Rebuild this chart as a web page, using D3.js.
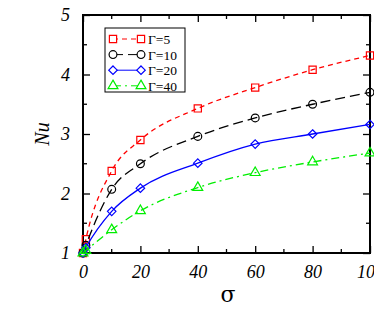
<!DOCTYPE html>
<html>
<head>
<meta charset="utf-8">
<script src="https://cdn.jsdelivr.net/npm/d3@7"></script>
<style>
  body { margin: 0; background: #fff; }
  svg { display: block; }
  .tick text { font-family: "Liberation Serif", serif; font-style: italic; }
</style>
</head>
<body>
<div id="chart"></div>
<script>
const sigma = [0, 1, 10, 20, 40, 60, 80, 100];
const nuG5 = [1.0, 1.23, 2.38, 2.9, 3.43, 3.78, 4.08, 4.32];
const nuG10 = [1.0, 1.13, 2.07, 2.5, 2.96, 3.27, 3.5, 3.7];
const nuG20 = [1.0, 1.09, 1.7, 2.09, 2.51, 2.83, 3.0, 3.16];
const nuG40 = [1.0, 1.04, 1.39, 1.71, 2.1, 2.35, 2.53, 2.68];
const seriesNames = ["\u0393=5", "\u0393=10", "\u0393=20", "\u0393=40"];
const xTicks = [0, 20, 40, 60, 80, 100];
const yTicks = [1, 2, 3, 4, 5];

const width = 374;
const height = 314;
const margin = { top: 15, right: 4, bottom: 61, left: 83 };

const svg = d3
  .select("#chart")
  .append("svg")
  .attr("width", width)
  .attr("height", height);

const x = d3
  .scaleLinear()
  .domain([0, 100])
  .range([margin.left, width - margin.right]);

const y = d3
  .scaleLinear()
  .domain([1, 5])
  .range([height - margin.bottom, margin.top]);

const series = [
  { name: seriesNames[0], values: nuG5, color: "#ff0000", dash: "5,4", marker: "square" },
  { name: seriesNames[1], values: nuG10, color: "#000000", dash: "10,5", marker: "circle" },
  { name: seriesNames[2], values: nuG20, color: "#0000ff", dash: null, marker: "diamond" },
  { name: seriesNames[3], values: nuG40, color: "#00ee00", dash: "8,4,2,4", marker: "triangle" },
];

const diamond = {
  draw(ctx, size) {
    const r = Math.sqrt(size / 2);
    ctx.moveTo(0, -r);
    ctx.lineTo(r, 0);
    ctx.lineTo(0, r);
    ctx.lineTo(-r, 0);
    ctx.closePath();
  },
};

const symbols = {
  square: d3.symbol().type(d3.symbolSquare).size(52),
  circle: d3.symbol().type(d3.symbolCircle).size(48),
  diamond: d3.symbol().type(diamond).size(36),
  triangle: d3.symbol().type(d3.symbolTriangle).size(42),
};

// axes, ticks inward on all four sides
const plotW = width - margin.left - margin.right;
const plotH = height - margin.top - margin.bottom;

const xBottom = d3.axisBottom(x).tickValues(xTicks).tickSize(-7).tickPadding(12);
const xTop = d3.axisTop(x).tickValues(xTicks).tickSize(-7).tickFormat("");
const yLeft = d3.axisLeft(y).tickValues(yTicks).tickSize(-7).tickPadding(13).tickFormat(d3.format("d"));
const yRight = d3.axisRight(y).tickValues(yTicks).tickSize(-7).tickFormat("");

const xMinor = d3.range(10, 100, 20);
const yMinor = d3.range(1.5, 5, 1);

function styleAxis(g) {
  g.select(".domain").remove();
  g.selectAll(".tick line").attr("stroke", "#000").attr("stroke-width", 1.3);
  g.selectAll(".tick text").attr("font-size", 18).attr("fill", "#000");
}

svg.append("g")
  .attr("transform", `translate(0,${height - margin.bottom})`)
  .call(xBottom)
  .call(styleAxis);
svg.append("g")
  .attr("transform", `translate(0,${margin.top})`)
  .call(xTop)
  .call(styleAxis);
svg.append("g")
  .attr("transform", `translate(${margin.left},0)`)
  .call(yLeft)
  .call(styleAxis);
svg.append("g")
  .attr("transform", `translate(${width - margin.right},0)`)
  .call(yRight)
  .call(styleAxis);

const minor = svg.append("g").attr("stroke", "#000").attr("stroke-width", 1.3);
xMinor.forEach((v) => {
  minor.append("line").attr("x1", x(v)).attr("x2", x(v))
    .attr("y1", y(1)).attr("y2", y(1) - 4);
  minor.append("line").attr("x1", x(v)).attr("x2", x(v))
    .attr("y1", y(5)).attr("y2", y(5) + 4);
});
yMinor.forEach((v) => {
  minor.append("line").attr("x1", x(0)).attr("x2", x(0) + 4)
    .attr("y1", y(v)).attr("y2", y(v));
  minor.append("line").attr("x1", x(100)).attr("x2", x(100) - 4)
    .attr("y1", y(v)).attr("y2", y(v));
});

svg.append("rect")
  .attr("x", margin.left)
  .attr("y", margin.top)
  .attr("width", plotW)
  .attr("height", plotH)
  .attr("fill", "none")
  .attr("stroke", "#000")
  .attr("stroke-width", 2);

// lines
const line = d3
  .line()
  .curve(d3.curveMonotoneX)
  .x((d, i) => x(sigma[i]))
  .y((d) => y(d));

series.forEach((s) => {
  svg.append("path")
    .datum(s.values)
    .attr("fill", "none")
    .attr("stroke", s.color)
    .attr("stroke-width", 1.3)
    .attr("stroke-dasharray", s.dash)
    .attr("d", line);

  svg.append("g")
    .selectAll("path")
    .data(s.values)
    .join("path")
    .attr("transform", (d, i) => `translate(${x(sigma[i])},${y(d)})`)
    .attr("d", symbols[s.marker])
    .attr("fill", "none")
    .attr("stroke", s.color)
    .attr("stroke-width", 1.2);
});

// legend
const legend = svg.append("g").attr("transform", "translate(105,28)");
legend.append("rect")
  .attr("width", 80)
  .attr("height", 64)
  .attr("fill", "#fff")
  .attr("stroke", "#000")
  .attr("stroke-width", 1);

series.forEach((s, i) => {
  const ly = 11 + i * 15.6;
  legend.append("line")
    .attr("x1", 8).attr("x2", 36)
    .attr("y1", ly).attr("y2", ly)
    .attr("stroke", s.color)
    .attr("stroke-width", 1)
    .attr("stroke-dasharray", s.dash);
  [8, 36].forEach((lx) => {
    legend.append("path")
      .attr("transform", `translate(${lx},${ly})`)
      .attr("d", symbols[s.marker])
      .attr("fill", "#fff")
      .attr("stroke", s.color)
      .attr("stroke-width", 1.2);
  });
  legend.append("text")
    .attr("x", 43)
    .attr("y", ly + 5)
    .attr("font-family", "Liberation Serif, serif")
    .attr("font-size", 13.5)
    .text(s.name);
});

// axis titles
svg.append("text")
  .attr("transform", `translate(49,${y(3)}) rotate(-90)`)
  .attr("text-anchor", "middle")
  .attr("font-family", "Liberation Serif, serif")
  .attr("font-style", "italic")
  .attr("font-size", 20)
  .text("Nu");

svg.append("text")
  .attr("x", 228)
  .attr("y", 302)
  .attr("text-anchor", "middle")
  .attr("font-family", "DejaVu Serif, serif")
  .attr("font-size", 22)
  .text("\u03c3");
</script>
</body>
</html>
